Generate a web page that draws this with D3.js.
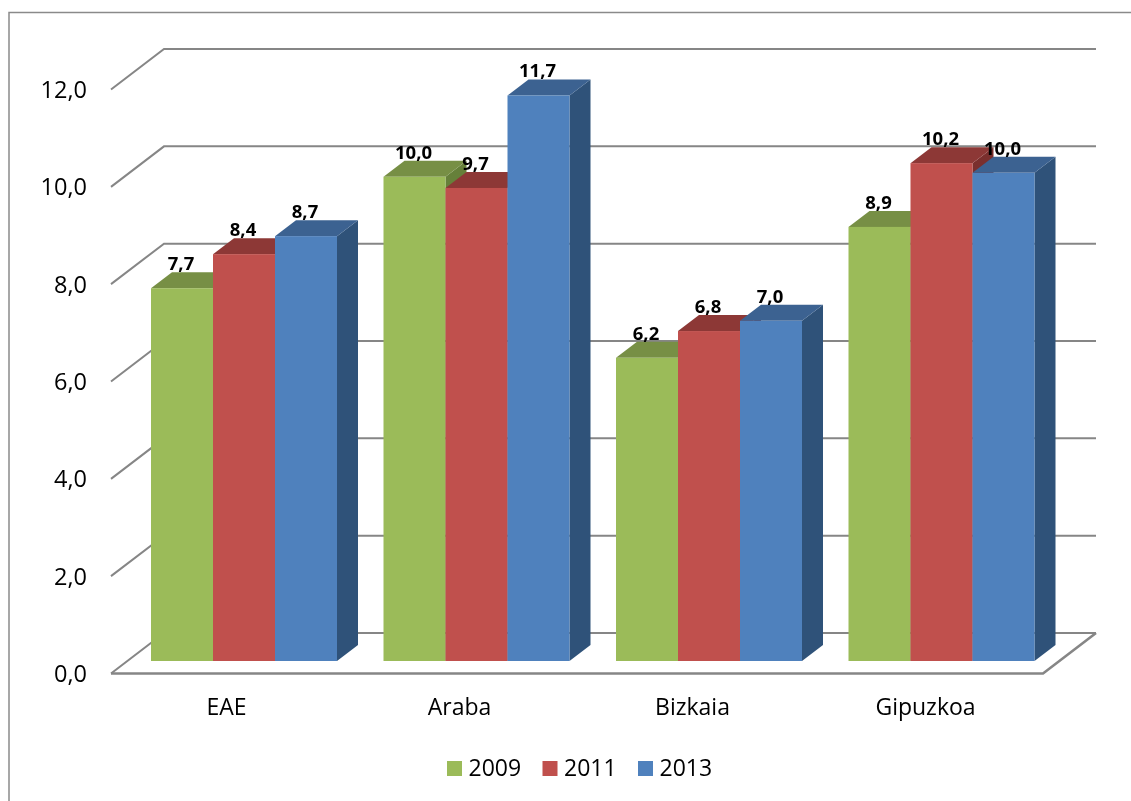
<!DOCTYPE html>
<html>
<head>
<meta charset="utf-8">
<script src="https://cdn.jsdelivr.net/npm/d3@7"></script>
<style>
html,body{margin:0;padding:0;background:#fff;overflow:hidden}
svg{display:block;filter:blur(0.35px)}
text{font-family:"Open Sans",sans-serif;fill:#000}
</style>
</head>
<body>
<div id="chart"></div>
<script>
const categories = ["EAE", "Araba", "Bizkaia", "Gipuzkoa"];
const seriesNames = ["2009", "2011", "2013"];
const values2009 = [7.66, 9.95, 6.23, 8.92];
const values2011 = [8.36, 9.72, 6.78, 10.23];
const values2013 = [8.73, 11.62, 6.99, 10.03];
const labels2009 = ["7,7", "10,0", "6,2", "8,9"];
const labels2011 = ["8,4", "9,7", "6,8", "10,2"];
const labels2013 = ["8,7", "11,7", "7,0", "10,0"];
const yTicks = [0, 2, 4, 6, 8, 10, 12];

const seriesValues = [values2009, values2011, values2013];
const seriesLabels = [labels2009, labels2011, labels2013];
const frontColors = ["#9BBB59", "#C0504D", "#4F81BD"];
const topColors = ["#778F45", "#8D3836", "#3C6291"];
const sideColors = ["#66803A", "#7A2F2D", "#2F5279"];

const W = 1131, H = 801;
const svg = d3.select("#chart").append("svg").attr("width", W).attr("height", H);

// chart frame (cropped at the right and bottom of the picture)
svg.append("path").attr("d", `M9 ${H}V12.5H${W}`).attr("fill", "none")
  .attr("stroke", "#8a8a8a").attr("stroke-width", 1.5);

// floor geometry of the pseudo-3D plot
const floorLeft = 111, floorRight = 1043, axisY0 = 673.5, axisY12 = 89.5;
const wallDx = 53, wallDy = -40.5;
const barDx = 21, barDy = -16;

const yAxisScale = d3.scaleLinear().domain([0, 12]).range([axisY0, axisY12]);
const barY = d3.scaleLinear().domain([0, 12]).range([661, 661 - (axisY0 - axisY12)]);
const xGroup = d3.scaleBand().domain(categories).range([127.75, 1057.75]).paddingInner(0.2).paddingOuter(0.1);
const xSeries = d3.scaleBand().domain(seriesNames).range([0, xGroup.bandwidth()]);
const xLabel = d3.scaleBand().domain(categories).range([floorLeft, floorRight]);

// gridlines and wall diagonals
const grid = svg.append("g").attr("fill", "none").attr("stroke", "#868686");
grid.selectAll("path.g").data(yTicks).join("path").attr("class", "g")
  .attr("stroke-width", 2)
  .attr("d", d => {
    const y = yAxisScale(d);
    return `M${floorLeft} ${y}L${floorLeft + wallDx} ${y + wallDy}H${floorRight + wallDx}`;
  });
grid.append("path").attr("stroke-width", 2.6)
  .attr("d", `M${floorLeft} ${axisY0}H${floorRight}L${floorRight + wallDx} ${axisY0 + wallDy}`);

// y tick labels
svg.append("g").selectAll("text").data(yTicks).join("text")
  .attr("x", 87).attr("y", d => yAxisScale(d) + 8.5)
  .attr("text-anchor", "end").attr("font-size", 23.5)
  .text(d => d3.format(".1f")(d).replace(".", ","));

// bars, painted left to right
const bars = svg.append("g");
categories.forEach((c, ci) => {
  seriesNames.forEach((s, si) => {
    const v = seriesValues[si][ci];
    const x0 = xGroup(c) + xSeries(s), x1 = x0 + xSeries.bandwidth();
    const yT = barY(v), yB = barY(0);
    const g = bars.append("g");
    g.append("path").attr("fill", sideColors[si])
      .attr("d", `M${x1} ${yT}L${x1 + barDx} ${yT + barDy}V${yB + barDy}L${x1} ${yB}Z`);
    g.append("path").attr("fill", topColors[si])
      .attr("d", `M${x0} ${yT}L${x0 + barDx} ${yT + barDy}H${x1 + barDx}L${x1} ${yT}Z`);
    g.append("rect").attr("fill", frontColors[si])
      .attr("x", x0).attr("y", yT).attr("width", x1 - x0).attr("height", yB - yT);
  });
});

// value labels
const valueLabels = svg.append("g");
categories.forEach((c, ci) => {
  seriesNames.forEach((s, si) => {
    valueLabels.append("text")
      .attr("x", xGroup(c) + xSeries(s) + xSeries.bandwidth() / 2 - 1)
      .attr("y", barY(seriesValues[si][ci]) - 18)
      .attr("text-anchor", "middle").attr("font-size", 18.5).attr("font-weight", 700)
      .text(seriesLabels[si][ci]);
  });
});

// category labels
svg.append("g").selectAll("text").data(categories).join("text")
  .attr("x", d => xLabel(d) + xLabel.bandwidth() / 2 - 1).attr("y", 715)
  .attr("text-anchor", "middle").attr("font-size", 23)
  .text(d => d);

// legend
const legendX = d3.scalePoint().domain(seriesNames).range([447, 638]);
const legend = svg.append("g").selectAll("g").data(seriesNames).join("g")
  .attr("transform", d => `translate(${legendX(d)},761)`);
legend.append("rect").attr("width", 15).attr("height", 15).attr("fill", (d, i) => frontColors[i]);
legend.append("text").attr("x", 21.5).attr("y", 15).attr("font-size", 23).text(d => d);
</script>
</body>
</html>
